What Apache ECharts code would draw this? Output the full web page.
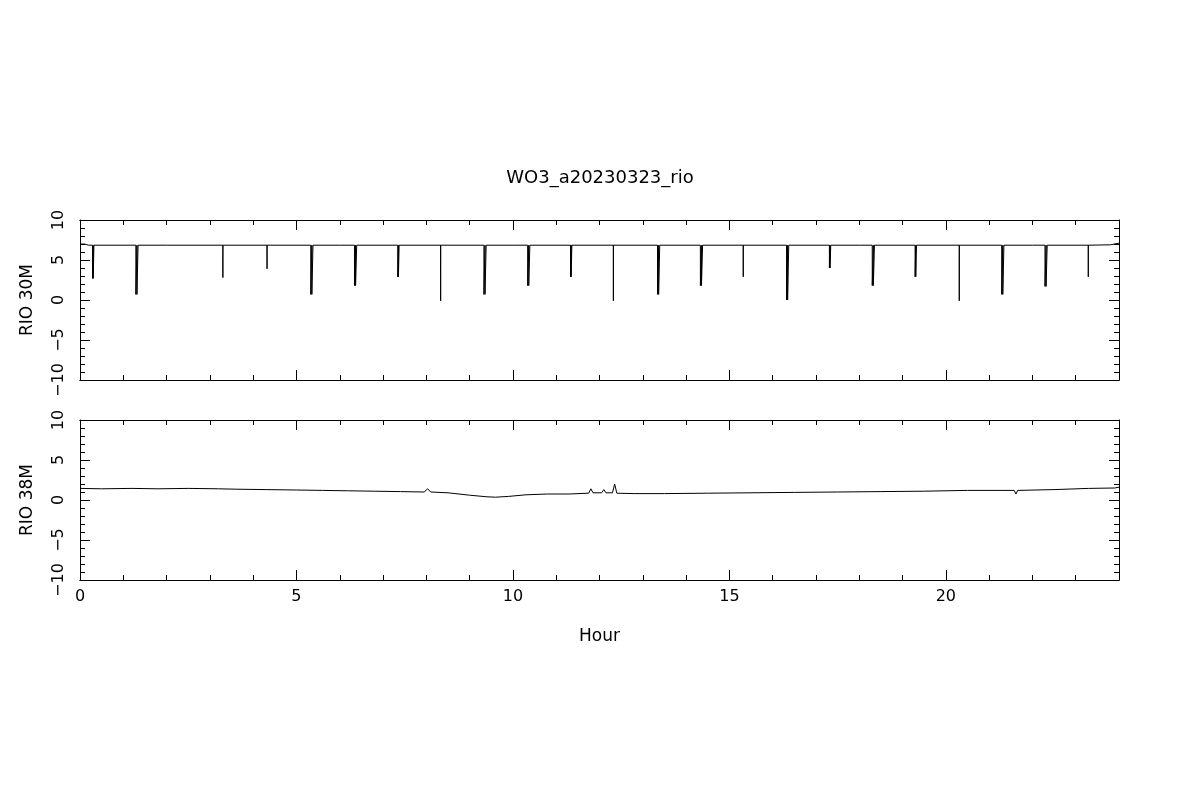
<!DOCTYPE html>
<html>
<head>
<meta charset="utf-8">
<title>WO3_a20230323_rio</title>
<script src="https://cdn.jsdelivr.net/npm/echarts@6/dist/echarts.min.js"></script>
<style>
  html, body { margin: 0; padding: 0; background: #fff; }
  #chart { width: 1200px; height: 800px; }
</style>
</head>
<body>
<div id="chart"></div>
<script>
// RIO 30M: flat level with a drop roughly every hour
const topLevel = 6.85;
const rio30BaseHours = [0, 0.1, 0.2, 2, 6, 10, 14, 18, 22, 23.8, 24];
const rio30BaseVals  = [7.0, 7.0, 6.85, 6.85, 6.85, 6.85, 6.85, 6.85, 6.85, 6.9, 7.1];
const spikeHours = [0.29, 1.29, 3.30, 4.32, 5.33, 6.34, 7.34, 8.33, 9.33, 10.34, 11.33, 12.32, 13.34, 14.33, 15.32, 16.32, 17.31, 18.30, 19.29, 20.31, 21.29, 22.29, 23.29];
const spikeMins  = [2.7, 0.7, 2.8, 3.9, 0.7, 1.8, 2.9, -0.1, 0.7, 1.8, 2.9, -0.1, 0.7, 1.8, 2.9, 0.0, 4.0, 1.8, 2.9, -0.1, 0.7, 1.7, 2.9];
const spikeDur   = [0.03, 0.05, 0, 0, 0.05, 0.05, 0.03, 0, 0.05, 0.05, 0.03, 0, 0.05, 0.05, 0, 0.05, 0.03, 0.05, 0.03, 0, 0.05, 0.05, 0];

// RIO 38M: slow drift with a shallow dip near hour 9.5
const rio38Hours = [0, 0.5, 1.2, 1.8, 2.5, 3.2, 3.6, 4.3, 5.0, 5.6, 6.2, 6.8, 7.4, 7.95, 8.03, 8.1, 8.5, 9.0, 9.4, 9.6, 9.9, 10.3, 10.8, 11.3, 11.75, 11.8, 11.85, 12.05, 12.1, 12.15, 12.3, 12.35, 12.4, 12.8, 13.5, 14.5, 15.5, 16.5, 17.5, 18.5, 19.5, 20.5, 21.3, 21.58, 21.62, 21.66, 22.5, 23.3, 23.9, 24];
const rio38Vals  = [1.45, 1.4, 1.45, 1.4, 1.45, 1.4, 1.35, 1.3, 1.25, 1.2, 1.15, 1.1, 1.05, 1.0, 1.4, 1.0, 0.9, 0.6, 0.4, 0.35, 0.45, 0.65, 0.75, 0.75, 0.85, 1.4, 0.9, 0.9, 1.3, 0.9, 0.9, 2.0, 0.85, 0.8, 0.8, 0.85, 0.9, 0.95, 1.0, 1.05, 1.1, 1.2, 1.2, 1.2, 0.75, 1.2, 1.3, 1.45, 1.5, 1.6];

const xTickLabels = [0, 5, 10, 15, 20];

const rio30 = rio30BaseHours.map((h, i) => [h, rio30BaseVals[i]]);
spikeHours.forEach((h, i) => {
  const d = spikeDur[i];
  rio30.push([h, topLevel], [h + 0.0005, spikeMins[i]]);
  // a wide drop is drawn as a few strokes so it reads as a solid bar
  if (d > 0) {
    rio30.push([h + d / 2, topLevel], [h + d / 2 + 0.0005, spikeMins[i]]);
  }
  rio30.push([h + d + 0.001, spikeMins[i]], [h + d + 0.0015, topLevel]);
});
rio30.sort((a, b) => a[0] - b[0]);
const rio38 = rio38Hours.map((h, i) => [h, rio38Vals[i]]);

const FONT = 'DejaVu Sans';
const black = '#000';
const minus = v => String(v).replace('-', '\u2212');
const frameLine = { onZero: false, lineStyle: { color: black, width: 1 } };

function xAxes(grid, showLabels) {
  const base = {
    type: 'value', gridIndex: grid, min: 0, max: 24,
    splitLine: { show: false },
    axisLine: frameLine
  };
  return [
    // minor ticks every hour
    Object.assign({}, base, {
      position: 'bottom', interval: 1,
      axisTick: { inside: true, length: 5, lineStyle: { color: black } },
      axisLabel: { show: false }
    }),
    // major ticks + labels
    Object.assign({}, base, {
      position: 'bottom', interval: 5,
      axisTick: { inside: true, length: 10, lineStyle: { color: black } },
      axisLabel: {
        show: showLabels, showMaxLabel: false, margin: 9,
        color: black, fontFamily: FONT, fontSize: 16,
        formatter: v => xTickLabels.includes(v) ? String(v) : ''
      },
      name: showLabels ? 'Hour' : '', nameLocation: 'middle', nameGap: 48,
      nameTextStyle: { color: black, fontFamily: FONT, fontSize: 17 }
    }),
    Object.assign({}, base, {
      position: 'top', interval: 1,
      axisTick: { inside: true, length: 5, lineStyle: { color: black } },
      axisLabel: { show: false }
    }),
    Object.assign({}, base, {
      position: 'top', interval: 5,
      axisTick: { inside: true, length: 10, lineStyle: { color: black } },
      axisLabel: { show: false }
    })
  ];
}

function yAxes(grid, name) {
  const base = {
    type: 'value', gridIndex: grid, min: -10, max: 10, interval: 5,
    splitLine: { show: false },
    axisLine: frameLine,
    axisTick: { inside: true, length: 10, lineStyle: { color: black } },
    minorTick: { show: true, splitNumber: 5, length: 5, lineStyle: { color: black } }
  };
  return [
    Object.assign({}, base, {
      position: 'left',
      axisLabel: {
        rotate: 90, margin: 13, color: black, fontFamily: FONT, fontSize: 16,
        formatter: minus
      },
      name: name, nameLocation: 'middle', nameGap: 44, nameRotate: 90,
      nameTextStyle: { color: black, fontFamily: FONT, fontSize: 17 }
    }),
    Object.assign({}, base, { position: 'right', axisLabel: { show: false } })
  ];
}

const chart = echarts.init(document.getElementById('chart'), null, { renderer: 'canvas' });

chart.setOption({
  animation: false,
  backgroundColor: '#fff',
  title: {
    text: 'WO3_a20230323_rio', left: 'center', top: 164,
    textStyle: { color: black, fontFamily: FONT, fontSize: 18, fontWeight: 'normal' }
  },
  grid: [
    { left: 80, right: 81, top: 220, height: 160 },
    { left: 80, right: 81, top: 420, height: 160 }
  ],
  xAxis: xAxes(0, false).concat(xAxes(1, true)),
  yAxis: yAxes(0, 'RIO 30M').concat(yAxes(1, 'RIO 38M')),
  series: [
    {
      type: 'line', xAxisIndex: 1, yAxisIndex: 0, data: rio30,
      showSymbol: false, lineStyle: { color: black, width: 1 }
    },
    {
      type: 'line', xAxisIndex: 5, yAxisIndex: 2, data: rio38,
      showSymbol: false, lineStyle: { color: black, width: 1 }
    }
  ]
});
</script>
</body>
</html>
